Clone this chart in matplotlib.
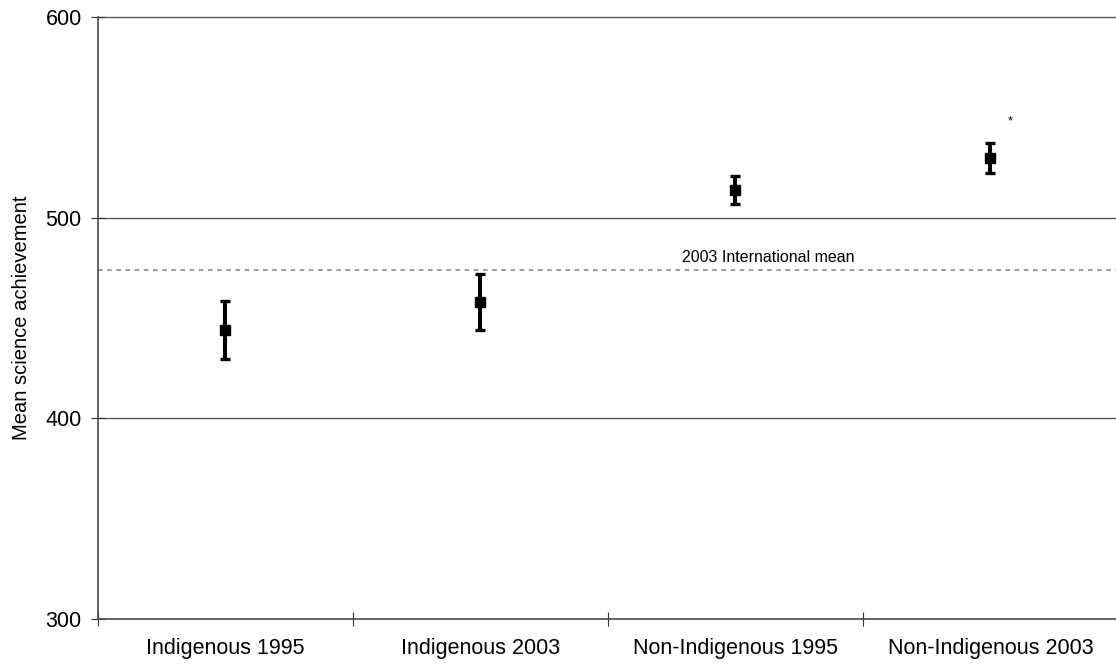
import matplotlib.pyplot as plt

## datos
grupos = ['Indigenous 1995', 'Indigenous 2003', 'Non-Indigenous 1995', 'Non-Indigenous 2003']
medias = [444, 458, 514, 530]
errores = [14.5, 14, 7, 7.5]
media_internacional = 474
texto_media = '2003 International mean'

plt.rcParams['font.family'] = ['Liberation Sans', 'DejaVu Sans']

fig = plt.figure(figsize=(11.16, 6.64), dpi=100)
ax = fig.add_axes([98/1116, 1 - 619/664, 1020/1116, (619 - 17.5)/664])

posiciones = [i + 0.5 for i in range(len(grupos))]

# lineas de la cuadricula
for y in [400, 500, 600]:
    ax.axhline(y, color='#5a5a5a', lw=1.0, zorder=1, clip_on=False)

ax.axhline(media_internacional, color='#808080', lw=1.1, linestyle=(0, (3, 3)), zorder=1)
ax.text(2.63, media_internacional + 2.5, texto_media, fontsize=11.5, ha='center', va='bottom')

ax.errorbar(posiciones, medias, yerr=errores, fmt='s', color='black', ms=7.5,
            elinewidth=2.9, capsize=3.8, capthick=2.4, zorder=3)

# asterisco de diferencia significativa
ax.text(3.576, 548, '*', fontsize=9, ha='center', va='center')

ax.set_xlim(0, 4)
ax.set_ylim(300, 600)
ax.set_yticks([300, 400, 500, 600])
ax.set_xticks([0, 1, 2, 3, 4])
ax.set_xticklabels([])
ax.set_xticks(posiciones, minor=True)
ax.set_xticklabels(grupos, minor=True, fontsize=15.5)
ax.tick_params(axis='x', which='major', direction='inout', length=9.5, width=0.8, color='#333333')
ax.tick_params(axis='x', which='minor', length=0, pad=14)
ax.tick_params(axis='y', direction='inout', length=9.5, width=0.8, color='#333333', labelsize=15.5, pad=7)

ax.spines['top'].set_visible(False)
ax.spines['right'].set_visible(False)
ax.spines['left'].set_color('#4a4a4a')
ax.spines['bottom'].set_color('#4a4a4a')
ax.spines['left'].set_linewidth(1.2)
ax.spines['bottom'].set_linewidth(1.2)

ax.set_ylabel('Mean science achievement', fontsize=14.5)
ax.yaxis.set_label_coords(-0.066, 0.5)

fig.savefig('out.png', dpi=100)
